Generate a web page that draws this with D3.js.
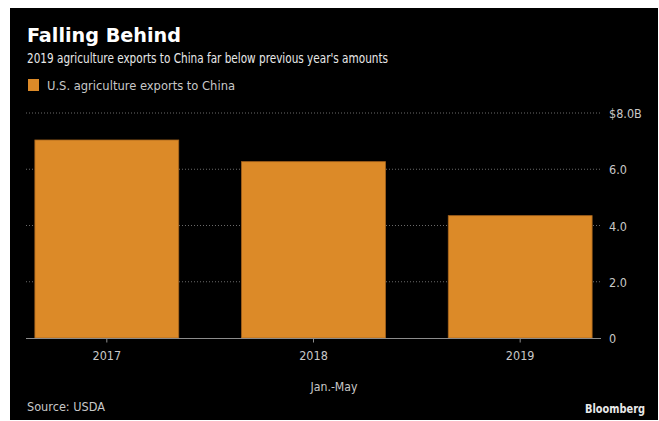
<!DOCTYPE html>
<html>
<head>
<meta charset="utf-8">
<script src="https://cdn.jsdelivr.net/npm/d3@7"></script>
<style>
  html, body { margin: 0; padding: 0; background: #ffffff; }
  svg { display: block; }
</style>
</head>
<body>
<script>
// ---- data ----
const categories = ["2017", "2018", "2019"];
const exportsValues = [7.04, 6.27, 4.35];   // $ billions, Jan.-May
const yTicks = [0, 2, 4, 6, 8];
const yTickLabels = ["0", "2.0", "4.0", "6.0", "$8.0B"];
const seriesName = "U.S. agriculture exports to China";

const W = 659, H = 421;
const FONT = "'DejaVu Sans Condensed', 'Liberation Sans Narrow', 'DejaVu Sans', sans-serif";

const svg = d3.select("body").append("svg").attr("width", W).attr("height", H);

// panel
svg.append("rect").attr("x", 10).attr("y", 8).attr("width", 648).attr("height", 412).attr("fill", "#000");

function txt(s, x, y, size, color, len, weight, anchor) {
  const t = svg.append("text").attr("x", x).attr("y", y)
    .attr("font-family", FONT).attr("font-size", size)
    .attr("fill", color).attr("font-weight", weight || "normal")
    .attr("text-anchor", anchor || "start").text(s);
  if (len) t.attr("textLength", len).attr("lengthAdjust", "spacingAndGlyphs");
  return t;
}

txt("Falling Behind", 27, 42, 19.5, "#ffffff", 154, "bold");
txt("2019 agriculture exports to China far below previous year's amounts", 27, 63, 14, "#e8e8e8", 361);

// legend
svg.append("rect").attr("x", 28).attr("y", 79).attr("width", 11).attr("height", 12).attr("fill", "#dc8a28");
txt(seriesName, 47, 89.5, 12.5, "#c8c8c8", 188);

// scales
const x = d3.scaleBand().domain(categories).range([26, 601]).paddingInner(0.304).paddingOuter(0.043);
const y = d3.scaleLinear().domain([0, 8]).range([338, 113]);

// gridlines
svg.append("g").selectAll("line").data(yTicks.filter(d => d > 0)).join("line")
  .attr("x1", 26).attr("x2", 601)
  .attr("y1", d => y(d)).attr("y2", d => y(d))
  .attr("stroke", "#6a6a6a").attr("stroke-width", 1).attr("stroke-dasharray", "1,2");

// bars
svg.append("g").selectAll("rect").data(exportsValues).join("rect")
  .attr("x", (d, i) => x(categories[i]))
  .attr("y", d => y(d))
  .attr("width", x.bandwidth())
  .attr("height", d => y(0) - y(d))
  .attr("fill", "#dc8a28")
  .attr("stroke", "#a8651d").attr("stroke-width", 0.8);

// baseline
svg.append("line").attr("x1", 26).attr("x2", 601).attr("y1", y(0) + 0.5).attr("y2", y(0) + 0.5)
  .attr("stroke", "#8c8c8c").attr("stroke-width", 1);

// y axis labels (right)
const yAxis = d3.axisRight(y).tickValues(yTicks).tickSize(0).tickPadding(0)
  .tickFormat((d, i) => yTickLabels[i]);
const gy = svg.append("g").attr("transform", "translate(609,0)").call(yAxis);
gy.select(".domain").remove();
gy.selectAll("text").attr("font-family", FONT).attr("font-size", 12.5).attr("fill", "#c8c8c8")
  .attr("dy", "0.36em");

// x axis
const xAxis = d3.axisBottom(x).tickSize(4).tickPadding(9);
const gx = svg.append("g").attr("transform", `translate(0,${y(0) + 0.5})`).call(xAxis);
gx.select(".domain").remove();
gx.selectAll("line").attr("stroke", "#8c8c8c");
gx.selectAll("text").attr("font-family", FONT).attr("font-size", 12.5).attr("fill", "#c8c8c8");

txt("Jan.-May", 334, 391, 12.5, "#c8c8c8", 47, "normal", "middle");
txt("Source: USDA", 27, 411, 12.5, "#c8c8c8", 78);
txt("Bloomberg", 645, 413, 13, "#e8e8e8", 60, "bold", "end");
</script>
</body>
</html>
